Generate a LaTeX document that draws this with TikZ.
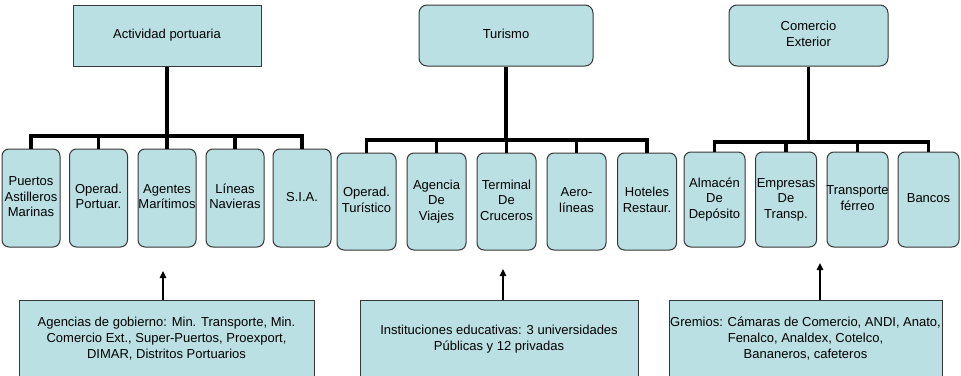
\documentclass[tikz,border=0pt]{standalone}
\usepackage{fontspec}
\setmainfont{Liberation Sans}
\usetikzlibrary{arrows.meta}
\definecolor{boxfill}{RGB}{187,224,227}
\definecolor{boxline}{RGB}{55,55,55}
\newcommand{\celltxt}[1]{\makebox[0pt][c]{\begin{tabular}{@{}c@{}}#1\end{tabular}}}
\begin{document}
\begin{tikzpicture}[x=1pt,y=-1pt,
  base/.style={draw=boxline,fill=boxfill,line width=1pt,inner sep=0pt,
    font=\fontsize{13}{15.5}\selectfont},
  topsq/.style={base,minimum height=61pt},
  toprd/.style={base,rounded corners=8pt,minimum height=61pt},
  child/.style={base,rounded corners=7pt},
  bottombox/.style={base,minimum height=78pt,font=\fontsize{13}{16}\selectfont},
  conn/.style={line width=3.4pt,line join=miter},
  arr/.style={line width=1.3pt,-{Triangle[length=7pt,width=6.5pt]}}]
\clip (0,0) rectangle (961,375);
\fill[white] (0,0) rectangle (961,375);

% top-level nodes
\node[topsq,minimum width=188pt] (ap) at (167,35.5) {\celltxt{Actividad portuaria}};
\node[toprd,minimum width=174pt] (tu) at (506,35.5) {\celltxt{Turismo}};
\node[toprd,minimum width=159pt] (ce) at (808.5,35.5) {\celltxt{Comercio\\Exterior}};

% Actividad portuaria children
\begin{scope}[every node/.style={child,minimum width=58pt,minimum height=98pt}]
\node (a1) at (31,198) {\celltxt{Puertos\\Astilleros\\Marinas}};
\node (a2) at (98.5,198) {\celltxt{Operad.\\Portuar.}};
\node (a3) at (167,198) {\celltxt{Agentes\\Marítimos}};
\node (a4) at (235,198) {\celltxt{Líneas\\Navieras}};
\node (a5) at (302,198) {\celltxt{S.I.A.}};
\end{scope}

% Turismo children
\begin{scope}[every node/.style={child,minimum width=59pt,minimum height=97pt}]
\node (t1) at (366.5,201.5) {\celltxt{Operad.\\Turístico}};
\node (t2) at (436.5,201.5) {\celltxt{Agencia\\De\\Viajes}};
\node (t3) at (506.5,201.5) {\celltxt{Terminal\\De\\Cruceros}};
\node (t4) at (576.5,201.5) {\celltxt{Aero-\\líneas}};
\node (t5) at (647,201.5) {\celltxt{Hoteles\\Restaur.}};
\end{scope}

% Comercio Exterior children
\begin{scope}[every node/.style={child,minimum width=61pt,minimum height=95pt}]
\node (c1) at (714.5,199.5) {\celltxt{Almacén\\De\\Depósito}};
\node (c2) at (786,199.5) {\celltxt{Empresas\\De\\Transp.}};
\node (c3) at (857.5,199.5) {\celltxt{Transporte\\férreo}};
\node (c4) at (928.5,199.5) {\celltxt{Bancos}};
\end{scope}

% bottom boxes
\node[bottombox,minimum width=295pt] (b1) at (166.5,339) {\celltxt{Agencias de gobierno: Min. Transporte, Min.\\Comercio Ext., Super-Puertos, Proexport,\\DIMAR, Distritos Portuarios}};
\node[bottombox,minimum width=278pt] (b2) at (499,339) {\celltxt{Instituciones educativas: 3 universidades\\Públicas y 12 privadas}};
\node[bottombox,minimum width=273pt] (b3) at (805.5,339) {\celltxt{Gremios: Cámaras de Comercio, ANDI, Anato,\\Fenalco, Analdex, Cotelco,\\Bananeros, cafeteros}};

% bus coordinates
\coordinate (apbus) at (167,136);
\coordinate (tubus) at (506,140);
\coordinate (cebus) at (808.5,142);

% Actividad connectors
\draw[conn] (ap.south) -- (ap.south |- apbus);
\draw[conn] (a1.north) -- (a1.north |- apbus) -- (a5.north |- apbus) -- (a5.north);
\foreach \n in {a2,a3,a4} \draw[conn] (\n.north) -- (\n.north |- apbus);

% Turismo connectors
\draw[conn] (tu.south) -- (tu.south |- tubus);
\draw[conn] (t1.north) -- (t1.north |- tubus) -- (t5.north |- tubus) -- (t5.north);
\foreach \n in {t2,t3,t4} \draw[conn] (\n.north) -- (\n.north |- tubus);

% Comercio connectors
\draw[conn] (ce.south) -- (ce.south |- cebus);
\draw[conn] (c1.north) -- (c1.north |- cebus) -- (c4.north |- cebus) -- (c4.north);
\foreach \n in {c2,c3} \draw[conn] (\n.north) -- (\n.north |- cebus);

% arrows from bottom boxes
\coordinate (k1) at (163,271);
\coordinate (k2) at (503,269);
\coordinate (k3) at (820,263);
\draw[arr] (k1 |- b1.north) -- (k1);
\draw[arr] (k2 |- b2.north) -- (k2);
\draw[arr] (k3 |- b3.north) -- (k3);
\end{tikzpicture}
\end{document}
